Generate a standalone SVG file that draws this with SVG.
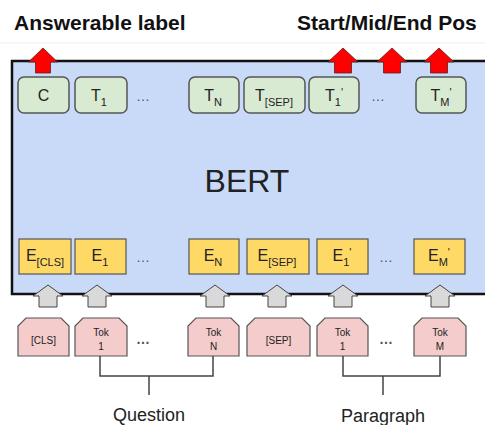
<svg xmlns="http://www.w3.org/2000/svg" width="485" height="425" viewBox="0 0 485 425">
<style>
text{font-family:"Liberation Sans",Arial,sans-serif;fill:#222}
.hdr{font-size:21px;font-weight:bold;fill:#111}
.t{fill:#d9ead3;stroke:#555;stroke-width:1.5}
.e{fill:#ffd966;stroke:#555;stroke-width:1.2}
.k{fill:#f4cccc;stroke:#555;stroke-width:1.2}
.m{font-size:16px;text-anchor:middle}
.s{font-size:11px}
.k1{font-size:10px;text-anchor:middle;fill:#222}
.dots{font-size:14px;text-anchor:middle;fill:#555}
.red{fill:#ff0000;stroke:#552222;stroke-width:0.8}
.gray{fill:#d9d9d9;stroke:#444;stroke-width:1}
.ln{fill:none;stroke:#444;stroke-width:1.5}
.lbl{font-size:18px;text-anchor:middle;fill:#222}
</style>
<rect width="485" height="425" fill="#fff"/>
<line x1="0" y1="43" x2="485" y2="43" stroke="#eee" stroke-width="1"/>
<text class="hdr" x="14" y="30">Answerable label</text>
<text class="hdr" x="297" y="30">Start/Mid/End Pos</text>

<g id="bert">
<rect x="12" y="61" width="485" height="233" fill="#c9daf8" stroke="#111" stroke-width="2.5"/>
<text x="247" y="192" font-size="32" text-anchor="middle" fill="#111">BERT</text>
</g>

<g id="t-row">
<g id="T_C"><rect class="t" x="18" y="77" width="51" height="36" rx="6"/><text class="m" x="43.5" y="101">C</text></g>
<g id="T_1"><rect class="t" x="75" y="77" width="52" height="36" rx="6"/><text class="m" x="99" y="101">T<tspan class="s" dy="5">1</tspan></text></g>
<text class="dots" x="143" y="101">…</text>
<g id="T_N"><rect class="t" x="189" y="77" width="50" height="36" rx="6"/><text class="m" x="213" y="101">T<tspan class="s" dy="5">N</tspan></text></g>
<g id="T_SEP"><rect class="t" x="244" y="77" width="61" height="36" rx="6"/><text class="m" x="274" y="101">T<tspan class="s" dy="5">[SEP]</tspan></text></g>
<g id="T_1p"><rect class="t" x="309" y="77" width="50" height="36" rx="6"/><text class="m" x="334" y="101">T<tspan class="s" dy="5">1</tspan><tspan class="s" dy="-10">'</tspan></text></g>
<text class="dots" x="378" y="101">…</text>
<g id="T_Mp"><rect class="t" x="416" y="77" width="50" height="36" rx="6"/><text class="m" x="441" y="101">T<tspan class="s" dy="5">M</tspan><tspan class="s" dy="-10">'</tspan></text></g>
</g>

<g id="e-row">
<g id="E_CLS"><rect class="e" x="19" y="239" width="52" height="35"/><text class="m" x="45" y="261">E<tspan class="s" dy="5">[CLS]</tspan></text></g>
<g id="E_1"><rect class="e" x="75" y="239" width="51" height="35"/><text class="m" x="100" y="261">E<tspan class="s" dy="5">1</tspan></text></g>
<text class="dots" x="143" y="262">…</text>
<g id="E_N"><rect class="e" x="189" y="239" width="50" height="35"/><text class="m" x="213" y="261">E<tspan class="s" dy="5">N</tspan></text></g>
<g id="E_SEP"><rect class="e" x="247" y="239" width="62" height="35"/><text class="m" x="277" y="261">E<tspan class="s" dy="5">[SEP]</tspan></text></g>
<g id="E_1p"><rect class="e" x="317" y="239" width="51" height="35"/><text class="m" x="342" y="261">E<tspan class="s" dy="5">1</tspan><tspan class="s" dy="-10">'</tspan></text></g>
<text class="dots" x="386" y="262">…</text>
<g id="E_Mp"><rect class="e" x="414" y="239" width="51" height="35"/><text class="m" x="439" y="261">E<tspan class="s" dy="5">M</tspan><tspan class="s" dy="-10">'</tspan></text></g>
</g>

<g id="tok-row">
<g id="Tok_CLS"><path class="k" d="M18 356V326L26 318H61L69 326V356Z"/><text class="k1" x="43.5" y="344">[CLS]</text></g>
<g id="Tok_1"><path class="k" d="M75 356V326L83 318H119L127 326V356Z"/><text class="k1" x="101" y="336">Tok</text><text class="k1" x="101" y="350">1</text></g>
<text class="dots" x="143" y="344" font-weight="bold">…</text>
<g id="Tok_N"><path class="k" d="M188 356V326L196 318H231L239 326V356Z"/><text class="k1" x="213.5" y="336">Tok</text><text class="k1" x="213.5" y="350">N</text></g>
<g id="Tok_SEP"><path class="k" d="M247 356V326L255 318H302L310 326V356Z"/><text class="k1" x="278.5" y="344">[SEP]</text></g>
<g id="Tok_1p"><path class="k" d="M317 356V326L325 318H360L368 326V356Z"/><text class="k1" x="342.5" y="336">Tok</text><text class="k1" x="342.5" y="350">1</text></g>
<text class="dots" x="386" y="344" font-weight="bold">…</text>
<g id="Tok_M"><path class="k" d="M414 356V326L422 318H458L466 326V356Z"/><text class="k1" x="440" y="336">Tok</text><text class="k1" x="440" y="350">M</text></g>
</g>

<g id="connectors">
<polygon class="red" points="43,48 57.5,62 50.5,62 50.5,73 35.5,73 35.5,62 28.5,62"/>
<polygon class="red" points="343,48 358,62 351.5,62 351.5,73 334.5,73 334.5,62 328,62"/>
<polygon class="red" points="392,48 407,62 400.5,62 400.5,73 383.5,73 383.5,62 377,62"/>
<polygon class="red" points="439,48 454,62 447.5,62 447.5,73 430.5,73 430.5,62 424,62"/>
<g class="gray">
<polygon points="48,285 63,296 57,296 57,307 39,307 39,296 33,296"/>
<polygon points="97,285 112,296 106,296 106,307 88,307 88,296 82,296"/>
<polygon points="215,285 230,296 224,296 224,307 206,307 206,296 200,296"/>
<polygon points="277,285 292,296 286,296 286,307 268,307 268,296 262,296"/>
<polygon points="343,285 358,296 352,296 352,307 334,307 334,296 328,296"/>
<polygon points="440,285 455,296 449,296 449,307 431,307 431,296 425,296"/>
</g>
<path class="ln" d="M100 356V376H213V356M149 376V395"/>
<path class="ln" d="M343 356V376H440V356M383 376V395"/>
</g>
<text class="lbl" x="149" y="421">Question</text>
<text class="lbl" x="383" y="422">Paragraph</text>
</svg>
